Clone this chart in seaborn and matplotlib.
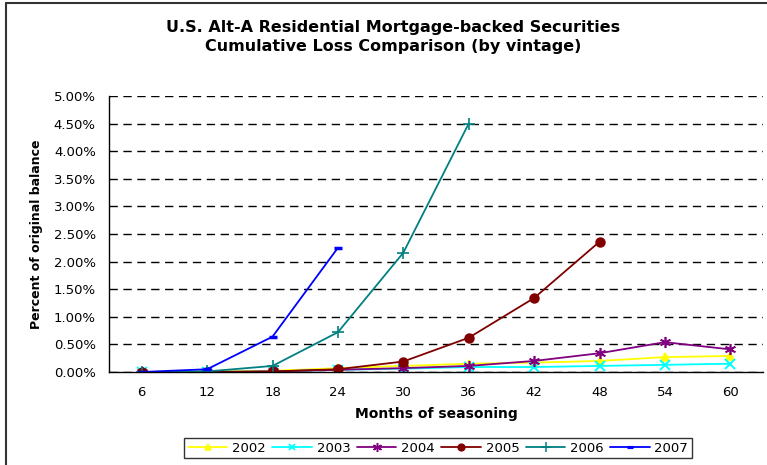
import numpy as np
import pandas as pd
import matplotlib
matplotlib.use("Agg")
import matplotlib.pyplot as plt
import seaborn as sns
from matplotlib.lines import Line2D
from matplotlib.ticker import FuncFormatter

months = [6, 12, 18, 24, 30, 36, 42, 48, 54, 60]
v2002 = [0.00, 0.01, 0.02, 0.07, 0.11, 0.15, 0.17, 0.20, 0.27, 0.29]
v2003 = [0.00, 0.00, 0.01, 0.04, 0.06, 0.09, 0.09, 0.11, 0.13, 0.15]
v2004 = [0.00, 0.00, 0.01, 0.04, 0.07, 0.11, 0.20, 0.34, 0.54, 0.41]
v2005 = [0.00, 0.00, 0.01, 0.05, 0.19, 0.62, 1.34, 2.36, None, None]
v2006 = [0.00, 0.01, 0.11, 0.72, 2.16, 4.50, None, None, None, None]
v2007 = [0.00, 0.05, 0.64, 2.25, None, None, None, None, None, None]
vintages = ["2002", "2003", "2004", "2005", "2006", "2007"]
series = [v2002, v2003, v2004, v2005, v2006, v2007]

colors = {"2002": "#FFFF00", "2003": "#00FFFF", "2004": "#800080",
          "2005": "#800000", "2006": "#008080", "2007": "#0000FF"}
markers = {"2002": "^", "2003": "x", "2004": (6, 2, 0),
           "2005": "o", "2006": "+", "2007": "_"}
msizes = {"2002": 6, "2003": 6.5, "2004": 8, "2005": 6.5, "2006": 8, "2007": 6}
medges = {"2002": 1.2, "2003": 1.4, "2004": 1.2, "2005": 1.0, "2006": 1.2, "2007": 2.5}

rows = []
for name, vals in zip(vintages, series):
    for i, (m, v) in enumerate(zip(months, vals)):
        if v is not None:
            rows.append({"pos": i, "month": m, "vintage": name, "value": v})
df = pd.DataFrame(rows)

sns.set_style("white")
plt.rcParams["font.family"] = ["DejaVu Sans"]
plt.rcParams["text.color"] = "black"
plt.rcParams["axes.labelcolor"] = "black"
plt.rcParams["xtick.color"] = "black"
plt.rcParams["ytick.color"] = "black"

fig = plt.figure(figsize=(7.67, 4.65), dpi=100)
ax = fig.add_axes([109 / 767, 1 - 372 / 465, (763 - 109) / 767, (372 - 96) / 465])

for name in vintages:
    sub = df[df["vintage"] == name]
    sns.lineplot(data=sub, x="pos", y="value", ax=ax, color=colors[name],
                 marker=markers[name], markersize=msizes[name],
                 markeredgecolor=colors[name], markerfacecolor=colors[name],
                 markeredgewidth=medges[name], linewidth=1.3, label=name, legend=False)

ax.set_xlim(-0.5, 9.5)
ax.set_ylim(0, 5.0)
ax.set_xticks(range(len(months)))
ax.set_xticklabels([str(m) for m in months], fontsize=9.5)
ax.set_xticks(np.arange(-0.5, 10, 1), minor=True)
ax.tick_params(axis="x", which="major", length=0, pad=10)
ax.tick_params(axis="x", which="minor", length=5, direction="out", width=1, color="black")
ax.set_yticks(np.arange(0, 5.01, 0.5))
ax.yaxis.set_major_formatter(FuncFormatter(lambda v, p: f"{v:.2f}%"))
ax.tick_params(axis="y", which="major", length=7, direction="inout", width=1,
               color="black", labelsize=9.5, pad=6)
ax.grid(axis="y", color="black", linestyle=(0, (6, 4)), linewidth=1)
ax.grid(axis="x", visible=False)
for s in ["top", "right"]:
    ax.spines[s].set_visible(False)
for s in ["left", "bottom"]:
    ax.spines[s].set_color("black")
    ax.spines[s].set_linewidth(1)
ax.set_xlabel("Months of seasoning", fontsize=10, fontweight="bold", labelpad=6)
ax.set_ylabel("Percent of original balance", fontsize=9, fontweight="bold", labelpad=8)

fig.text(0.512, 1 - 37 / 465,
         "U.S. Alt-A Residential Mortgage-backed Securities\nCumulative Loss Comparison (by vintage)",
         ha="center", va="center", fontsize=11.5, fontweight="bold", linespacing=1.3)

handles = [Line2D([0], [0], color=colors[n], marker=markers[n], markersize=msizes[n] - 1.5,
                  markeredgecolor=colors[n], markerfacecolor=colors[n],
                  markeredgewidth=medges[n] * 0.9, linewidth=1.3)
           for n in vintages]
leg = fig.legend(handles, vintages, loc="center", bbox_to_anchor=(438 / 767, 1 - 448 / 465),
                 ncol=6, fontsize=9.5, frameon=True, fancybox=False, handlelength=3.0,
                 handletextpad=0.35, columnspacing=0.5, borderpad=0.25, borderaxespad=0)
leg.get_frame().set_edgecolor("black")
leg.get_frame().set_linewidth(1)

# chart border (left and top edges visible in reference)
fig.add_artist(Line2D([6 / 767, 6 / 767], [0, 1 - 3 / 465], color="#333333", linewidth=1.5,
                      transform=fig.transFigure))
fig.add_artist(Line2D([6 / 767, 1], [1 - 3 / 465, 1 - 3 / 465], color="#333333", linewidth=1.5,
                      transform=fig.transFigure))

fig.savefig("out.png", dpi=100)
